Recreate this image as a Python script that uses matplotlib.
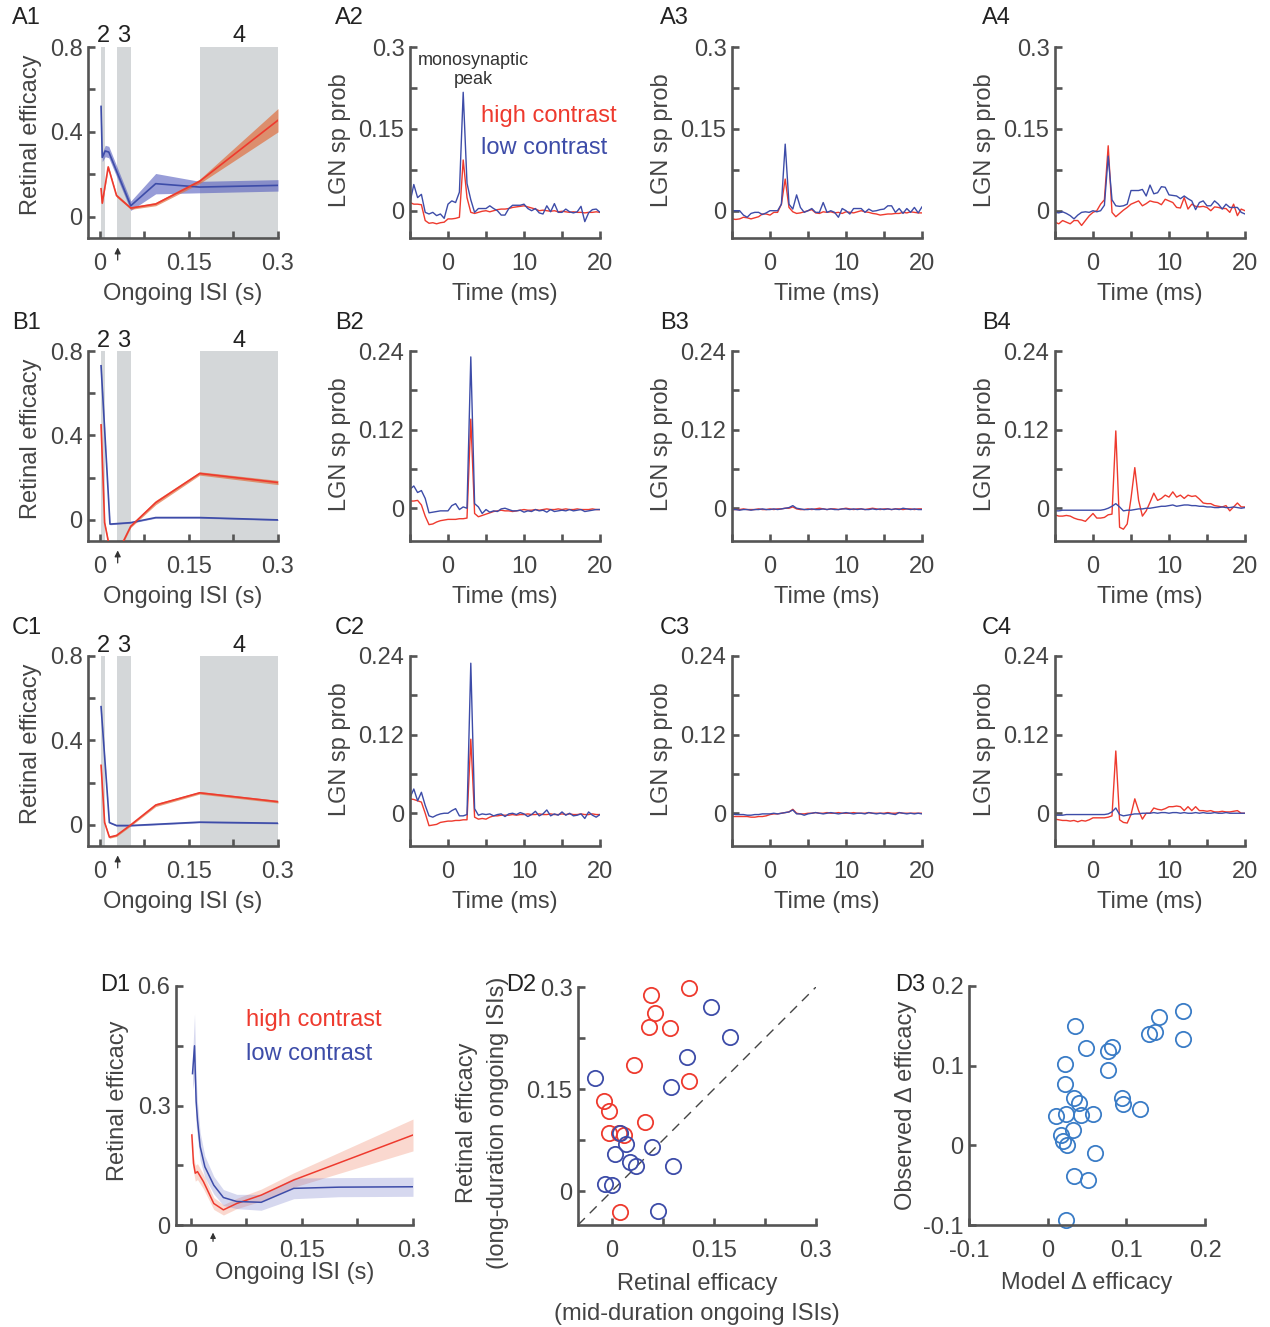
import numpy as np
import matplotlib
matplotlib.use("Agg")
import matplotlib.pyplot as plt

plt.rcParams['font.family'] = ['Liberation Sans', 'DejaVu Sans']
plt.rcParams['font.size'] = 17
plt.rcParams['text.color'] = '#444444'
plt.rcParams['axes.labelcolor'] = '#444444'
plt.rcParams['xtick.color'] = '#555555'
plt.rcParams['ytick.color'] = '#555555'
plt.rcParams['xtick.labelcolor'] = '#444444'
plt.rcParams['ytick.labelcolor'] = '#444444'

RED = '#ee3a2e'
BLUE = '#3d4ca8'
GRAY = '#d4d7d9'
DOT_BLUE = '#3a7cc6'

# ---------------- ISI curves (rows A-C, column 1) ----------------
isi_bands = [(0.002, 0.009), (0.028, 0.052), (0.168, 0.3)]
band_names = ['2', '3', '4']

a1_low_x = [0.002, 0.004, 0.009, 0.015, 0.052, 0.094, 0.168, 0.3]
a1_low = [0.52, 0.28, 0.31, 0.305, 0.052, 0.156, 0.14, 0.148]
a1_low_err = [0.01, 0.02, 0.027, 0.027, 0.022, 0.048, 0.027, 0.027]
a1_high_x = [0.002, 0.004, 0.014, 0.028, 0.052, 0.094, 0.168, 0.3]
a1_high = [0.132, 0.064, 0.235, 0.1, 0.041, 0.06, 0.167, 0.455]
a1_high_err = [0.005, 0.005, 0.008, 0.007, 0.006, 0.008, 0.01, 0.055]

b1_low_x = [0.002, 0.017, 0.052, 0.094, 0.168, 0.3]
b1_low = [0.73, -0.02, -0.013, 0.011, 0.011, 0.0]
b1_low_err = [0.004, 0.003, 0.003, 0.003, 0.003, 0.003]
b1_high_x = [0.002, 0.008, 0.028, 0.038, 0.052, 0.094, 0.168, 0.3]
b1_high = [0.45, -0.013, -0.3, -0.11, -0.03, 0.082, 0.22, 0.177]
b1_high_err = [0.006, 0.006, 0.006, 0.006, 0.006, 0.01, 0.008, 0.01]

c1_low_x = [0.002, 0.016, 0.028, 0.052, 0.168, 0.3]
c1_low = [0.56, 0.011, -0.003, -0.003, 0.013, 0.008]
c1_low_err = [0.004, 0.003, 0.003, 0.003, 0.003, 0.003]
c1_high_x = [0.002, 0.008, 0.016, 0.028, 0.052, 0.094, 0.168, 0.3]
c1_high = [0.282, 0.011, -0.058, -0.05, 0.0, 0.094, 0.152, 0.11]
c1_high_err = [0.005, 0.005, 0.005, 0.005, 0.005, 0.007, 0.006, 0.006]

# ---------------- LGN spike probability traces (0.5 ms bins) ----------------
t_ms = np.arange(-5, 20.01, 0.5)

a2_high = [0.015, 0.012, 0.012, 0.011, -0.018, -0.023, -0.022, -0.024, -0.022, -0.021,
           -0.015, -0.015, -0.014, -0.012, 0.093, 0.024, -0.003, -0.005, -0.003, -0.001,
           0.0, -0.002, 0.0, 0.002, 0.003, 0.003, 0.004, 0.006, 0.007, 0.008,
           0.009, 0.007, 0.005, 0.003, 0.0, 0.001, 0.0, -0.001, 0.0, -0.002,
           -0.001, -0.002, -0.003, -0.002, -0.003, -0.003, -0.004, -0.003, -0.003, -0.002,
           -0.003]
a2_low = [0.015, 0.048, 0.024, 0.030, -0.003, -0.006, -0.003, -0.009, -0.006, -0.014,
          0.012, 0.018, 0.015, 0.034, 0.217, 0.050, 0.020, -0.003, 0.004, 0.004,
          0.004, 0.009, 0.004, 0.0, -0.008, -0.008, 0.004, 0.010, 0.010, 0.010,
          0.012, 0.004, 0.0, 0.004, -0.004, -0.006, 0.009, -0.002, 0.013, -0.003,
          -0.003, 0.003, -0.002, -0.004, -0.002, 0.008, -0.020, -0.004, 0.002, 0.003,
          -0.003]
a3_high = [-0.015, -0.016, -0.015, -0.012, -0.013, -0.015, -0.013, -0.011, -0.006, -0.006,
           -0.008, -0.003, -0.003, 0.012, 0.058, 0.006, -0.002, -0.005, -0.004, -0.002,
           0.0, 0.002, -0.004, -0.005, -0.002, -0.003, -0.002, -0.004, -0.003, -0.005,
           -0.002, -0.003, -0.004, -0.002, 0.0, -0.002, -0.003, -0.005, -0.006, -0.008,
           -0.007, -0.006, -0.006, -0.005, -0.005, -0.003, -0.004, -0.002, -0.003, -0.004,
           -0.004]
a3_low = [0.0, 0.0, 0.0, -0.008, -0.012, -0.005, -0.003, -0.003, -0.007, -0.004,
          0.0, 0.0, 0.0, 0.012, 0.122, 0.012, 0.003, 0.029, 0.006, -0.003,
          0.0, 0.004, -0.003, -0.003, 0.015, -0.003, 0.0, -0.003, -0.012, 0.004,
          0.0, -0.006, 0.004, 0.004, 0.004, -0.003, 0.003, -0.001, 0.0, 0.002,
          0.003, 0.009, 0.009, -0.003, 0.004, -0.005, 0.004, -0.003, 0.006, -0.004,
          0.007]
a4_high = [-0.021, -0.024, -0.018, -0.021, -0.024, -0.018, -0.018, -0.027, -0.018, -0.009,
           -0.003, 0.0, 0.012, 0.020, 0.119, -0.003, -0.011, -0.005, 0.001, 0.006,
           0.012, 0.015, 0.018, 0.009, 0.013, 0.018, 0.016, 0.015, 0.011, 0.021,
           0.018, 0.015, 0.006, 0.005, 0.024, 0.003, 0.012, 0.008, 0.007, 0.008,
           0.006, 0.0, 0.007, 0.006, 0.004, 0.004, -0.003, 0.012, -0.009, 0.003,
           0.0]
a4_low = [-0.003, -0.004, -0.002, -0.005, -0.009, -0.015, -0.008, -0.003, -0.002, -0.003,
          0.0, -0.002, 0.0, 0.010, 0.100, 0.020, 0.009, 0.008, 0.009, 0.012,
          0.037, 0.037, 0.037, 0.039, 0.027, 0.047, 0.031, 0.033, 0.044, 0.043,
          0.029, 0.028, 0.027, 0.022, 0.027, 0.022, 0.018, 0.002, 0.015, 0.018,
          0.009, 0.009, 0.018, 0.012, 0.003, 0.012, 0.006, 0.006, 0.006, -0.003,
          -0.006]

b2_high = [0.011, 0.011, 0.012, 0.005, -0.012, -0.025, -0.024, -0.021, -0.019, -0.018,
           -0.017, -0.017, -0.017, -0.016, -0.016, -0.015, 0.136, -0.008, -0.013, -0.011,
           -0.009, -0.007, -0.005, -0.004, -0.003, -0.004, -0.004, -0.005, -0.004, -0.003,
           -0.002, -0.003, -0.003, -0.002, -0.003, -0.002, -0.001, -0.002, -0.002, -0.001,
           -0.002, -0.001, -0.002, -0.002, -0.001, -0.002, -0.002, -0.002, -0.001, -0.002,
           -0.002]
b2_low = [0.029, 0.034, 0.024, 0.027, 0.015, -0.007, -0.006, -0.005, -0.004, -0.004,
          -0.004, 0.004, 0.007, -0.002, 0.002, 0.000, 0.231, 0.007, 0.002, -0.008,
          -0.002, -0.006, -0.004, -0.005, -0.001, 0.000, -0.002, -0.004, -0.004, -0.003,
          -0.006, -0.004, -0.005, -0.002, -0.004, -0.003, -0.006, -0.002, -0.005, -0.004,
          -0.003, -0.004, -0.002, -0.004, -0.003, -0.002, -0.005, -0.004, -0.003, -0.002,
          -0.002]
b3_high = [-0.002, -0.002, -0.002, -0.001, -0.002, -0.002, -0.002, -0.001, -0.002, -0.002,
           -0.001, -0.002, -0.001, -0.001, 0.000, 0.000, 0.002, -0.001, -0.002, -0.002,
           -0.001, -0.002, -0.001, 0.000, -0.001, -0.002, -0.001, -0.001, -0.002, -0.001,
           0.000, -0.001, -0.002, -0.001, -0.001, -0.002, -0.001, 0.000, -0.001, -0.002,
           -0.001, -0.001, -0.002, -0.001, -0.001, -0.002, -0.001, -0.001, -0.002, -0.001,
           -0.001]
b3_low = [-0.002, -0.002, -0.003, -0.002, -0.002, -0.003, -0.002, -0.002, -0.001, -0.002,
          -0.002, -0.001, -0.002, -0.001, 0.000, 0.001, 0.004, 0.000, -0.001, -0.002,
          -0.002, -0.001, -0.002, -0.002, -0.001, -0.002, -0.001, -0.002, -0.002, -0.001,
          -0.001, -0.002, -0.001, -0.002, -0.001, -0.002, -0.002, -0.001, -0.002, -0.001,
          -0.002, -0.001, -0.002, -0.001, -0.002, 0.000, -0.001, -0.002, -0.001, -0.002,
          -0.002]
b4_high = [-0.010, -0.012, -0.012, -0.011, -0.012, -0.015, -0.017, -0.018, -0.020, -0.014,
           -0.008, -0.015, -0.015, -0.014, -0.010, -0.009, 0.118, -0.029, -0.032, -0.024,
           0.015, 0.062, 0.012, -0.012, -0.004, 0.009, 0.023, 0.012, 0.015, 0.020,
           0.017, 0.025, 0.017, 0.020, 0.015, 0.020, 0.018, 0.019, 0.014, 0.008,
           0.007, 0.007, 0.004, 0.003, 0.002, 0.004, -0.004, 0.002, 0.008, 0.002,
           0.002]
b4_low = [-0.004, -0.004, -0.003, -0.003, -0.003, -0.003, -0.003, -0.003, -0.003, -0.003,
          -0.003, -0.003, -0.003, -0.002, 0.000, 0.003, 0.007, 0.002, -0.004, -0.003,
          -0.003, -0.002, -0.001, -0.001, 0.000, 0.000, 0.001, 0.002, 0.003, 0.003,
          0.004, 0.005, 0.003, 0.004, 0.005, 0.005, 0.004, 0.004, 0.003, 0.003,
          0.002, 0.002, 0.001, 0.001, 0.002, 0.001, 0.001, 0.002, 0.001, 0.000,
          0.001]

c2_high = [0.022, 0.021, 0.019, 0.017, 0.000, -0.019, -0.018, -0.017, -0.014, -0.013,
           -0.012, -0.012, -0.011, -0.011, -0.010, -0.010, 0.113, -0.006, -0.009, -0.008,
           -0.009, -0.006, -0.004, -0.004, -0.003, -0.003, -0.003, -0.002, -0.003, -0.002,
           -0.002, -0.001, -0.002, -0.002, -0.001, -0.002, -0.002, -0.001, -0.002, -0.002,
           -0.001, -0.002, -0.001, -0.002, -0.002, -0.001, -0.002, -0.002, -0.001, -0.002,
           -0.002]
c2_low = [0.024, 0.037, 0.019, 0.032, 0.012, -0.004, -0.006, -0.003, -0.001, 0.000,
          0.000, 0.004, 0.007, -0.004, -0.004, -0.002, 0.229, 0.007, -0.003, -0.001,
          -0.002, -0.001, -0.004, -0.002, -0.001, -0.005, -0.001, 0.000, -0.002, 0.001,
          -0.001, -0.005, -0.002, 0.003, -0.004, -0.001, 0.005, -0.004, -0.001, -0.003,
          0.002, -0.003, 0.000, -0.004, -0.003, -0.001, -0.008, 0.002, -0.003, -0.006,
          -0.002]
c3_high = [-0.005, -0.005, -0.005, -0.005, -0.005, -0.006, -0.006, -0.005, -0.005, -0.004,
           -0.002, -0.001, -0.001, 0.000, 0.001, 0.002, 0.006, 0.000, -0.001, -0.001,
           0.000, 0.000, 0.001, 0.000, 0.000, 0.001, 0.000, 0.000, 0.001, 0.000,
           0.000, 0.000, 0.001, 0.000, 0.000, 0.000, 0.001, 0.000, 0.000, 0.000,
           0.000, 0.001, 0.000, 0.000, 0.001, 0.000, 0.000, 0.000, 0.000, 0.000,
           0.000]
c3_low = [-0.001, -0.002, -0.002, -0.002, -0.003, -0.003, -0.002, -0.002, -0.001, -0.001,
          -0.001, 0.000, -0.001, 0.000, 0.001, 0.002, 0.005, -0.001, -0.001, -0.003,
          -0.001, 0.000, 0.001, 0.000, -0.001, 0.000, 0.001, 0.000, -0.001, 0.000,
          0.001, 0.000, -0.001, 0.000, 0.000, -0.001, 0.001, 0.000, -0.001, 0.000,
          -0.001, 0.000, -0.001, -0.002, 0.001, 0.000, -0.001, 0.000, -0.001, 0.000,
          -0.001]
c4_high = [-0.009, -0.010, -0.011, -0.011, -0.012, -0.011, -0.013, -0.011, -0.012, -0.010,
           -0.007, -0.007, -0.007, -0.007, -0.006, -0.004, 0.095, -0.010, -0.014, -0.015,
           -0.002, 0.022, 0.004, -0.009, 0.000, 0.000, 0.008, 0.006, 0.005, 0.007,
           0.010, 0.010, 0.011, 0.010, 0.004, 0.010, 0.004, 0.010, 0.004, 0.004,
           0.003, 0.004, 0.002, 0.002, 0.003, 0.002, 0.002, 0.003, 0.004, 0.000,
           0.000]
c4_low = [-0.003, -0.003, -0.003, -0.002, -0.002, -0.002, -0.002, -0.002, -0.002, -0.002,
          -0.002, -0.002, -0.002, -0.002, -0.001, 0.002, 0.008, -0.002, -0.004, -0.003,
          -0.002, -0.001, -0.001, 0.000, 0.000, 0.000, 0.001, 0.000, 0.001, 0.001,
          0.000, 0.001, 0.001, 0.000, 0.001, 0.000, 0.000, 0.001, 0.000, 0.001,
          0.000, 0.000, 0.001, 0.000, 0.000, 0.001, 0.000, 0.000, 0.000, 0.000,
          0.000]

# ---------------- D1: population efficacy vs ISI ----------------
d1_low_x = [0.0023, 0.005, 0.0072, 0.009, 0.0126, 0.019, 0.031, 0.044, 0.062, 0.095, 0.139, 0.2, 0.3]
d1_low = [0.38, 0.45, 0.31, 0.264, 0.197, 0.146, 0.1, 0.069, 0.059, 0.057, 0.092, 0.095, 0.096]
d1_low_err = [0.04, 0.08, 0.06, 0.045, 0.035, 0.027, 0.022, 0.02, 0.018, 0.02, 0.026, 0.024, 0.024]
d1_high_x = [0.0014, 0.0036, 0.006, 0.009, 0.017, 0.031, 0.044, 0.062, 0.095, 0.139, 0.3]
d1_high = [0.226, 0.155, 0.13, 0.134, 0.109, 0.054, 0.038, 0.054, 0.075, 0.113, 0.226]
d1_high_err = [0.02, 0.02, 0.02, 0.02, 0.018, 0.015, 0.013, 0.013, 0.015, 0.018, 0.04]

# ---------------- D2: mid vs long ISI efficacy ----------------
d2_high_mid = [0.057, 0.113, 0.063, 0.055, 0.086, 0.032, 0.113, -0.012, -0.005, 0.048, -0.004, 0.011, 0.018, 0.012]
d2_high_long = [0.288, 0.298, 0.262, 0.241, 0.240, 0.185, 0.162, 0.133, 0.118, 0.101, 0.086, 0.085, 0.083, -0.031]
d2_low_mid = [0.145, 0.174, 0.110, -0.025, 0.087, 0.012, 0.021, 0.059, 0.005, 0.026, 0.035, 0.089, -0.010, 0.0, 0.067]
d2_low_long = [0.271, 0.226, 0.197, 0.166, 0.153, 0.086, 0.069, 0.064, 0.055, 0.042, 0.037, 0.037, 0.010, 0.009, -0.030]

# ---------------- D3: model vs observed change ----------------
d3_model = [0.035, 0.049, 0.022, 0.022, 0.034, 0.040, 0.011, 0.023, 0.042, 0.057, 0.032, 0.017, 0.019,
            0.025, 0.060, 0.034, 0.051, 0.023, 0.077, 0.077, 0.082, 0.094, 0.096, 0.117, 0.129, 0.136,
            0.141, 0.172, 0.172]
d3_observed = [0.150, 0.122, 0.102, 0.077, 0.060, 0.053, 0.037, 0.039, 0.038, 0.039, 0.019, 0.013, 0.006,
               0.0, -0.009, -0.038, -0.044, -0.094, 0.094, 0.119, 0.123, 0.059, 0.052, 0.046, 0.140, 0.142,
               0.161, 0.168, 0.133]

W, H = 1270, 1327
fig = plt.figure(figsize=(W / 100, H / 100), dpi=100)


def add_ax(l, t, r, b):
    return fig.add_axes([l / W, 1 - b / H, (r - l) / W, (b - t) / H])


def style(ax):
    for s in ['top', 'right']:
        ax.spines[s].set_visible(False)
    for s in ['left', 'bottom']:
        ax.spines[s].set_linewidth(1.9)
        ax.spines[s].set_color('#555555')
    ax.tick_params(direction='in', length=5, width=1.9, labelsize=17)
    ax.tick_params(axis='x', pad=10.5)
    ax.tick_params(axis='y', pad=4)


def isi_panel(ax, lx, ly, le, hx, hy, he):
    for (a, b), name in zip(isi_bands, band_names):
        ax.axvspan(a, b, color=GRAY, lw=0, zorder=0)
        ax.text((a + b) / 2, 1.055, name, transform=ax.get_xaxis_transform(),
                ha='center', va='center', fontsize=17, color='#222222')
    lx, ly, le = np.array(lx), np.array(ly), np.array(le)
    hx, hy, he = np.array(hx), np.array(hy), np.array(he)
    ax.fill_between(lx, ly - le, ly + le, color='#545cbe', alpha=0.6, lw=0, zorder=1)
    ax.fill_between(hx, hy - he, hy + he, color='#e0703f', alpha=0.7, lw=0, zorder=1)
    ax.plot(lx, ly, color=BLUE, lw=1.2, zorder=3)
    ax.plot(hx, hy, color=RED, lw=1.2, zorder=3)
    ax.set_xlim(-0.02, 0.3)
    ax.set_ylim(-0.1, 0.8)
    ax.set_xticks([0, 0.075, 0.15, 0.225, 0.3])
    ax.set_xticklabels(['0', '', '0.15', '', '0.3'])
    ax.set_yticks([0, 0.2, 0.4, 0.6, 0.8])
    ax.set_yticklabels(['0', '', '0.4', '', '0.8'])
    style(ax)
    ax.annotate('', xy=(0.03, -0.035), xytext=(0.03, -0.13),
                xycoords=('data', 'axes fraction'), annotation_clip=False,
                arrowprops=dict(arrowstyle='-|>', color='#333333', lw=0.9, mutation_scale=9))
    ax.set_xlabel('Ongoing ISI (s)')
    ax.set_ylabel('Retinal efficacy')
    ax.xaxis.set_label_coords(0.5, -0.235)
    ax.yaxis.set_label_coords(-0.24, 0.54)


def lgn_panel(ax, high, low, ymax):
    ax.plot(t_ms, high, color=RED, lw=1.0)
    ax.plot(t_ms, low, color=BLUE, lw=1.0)
    ax.set_xlim(-5, 20)
    ax.set_ylim(-0.05, ymax)
    ax.set_xticks([-5, 0, 5, 10, 15, 20])
    ax.set_xticklabels(['', '0', '', '10', '', '20'])
    ticks = [0, ymax / 4, ymax / 2, 3 * ymax / 4, ymax]
    ax.set_yticks(ticks)
    half = '0.15' if ymax == 0.3 else '0.12'
    top = '0.3' if ymax == 0.3 else '0.24'
    ax.set_yticklabels(['0', '', half, '', top])
    style(ax)
    ax.set_xlabel('Time (ms)')
    ax.set_ylabel('LGN sp prob')
    ax.xaxis.set_label_coords(0.5, -0.235)
    ax.yaxis.set_label_coords(-0.31, 0.51)


cols = [(88, 278), (410, 600), (732, 922), (1055, 1245)]
rows = [(47, 238), (351, 541), (656, 846)]
isi_data = [
    (a1_low_x, a1_low, a1_low_err, a1_high_x, a1_high, a1_high_err),
    (b1_low_x, b1_low, b1_low_err, b1_high_x, b1_high, b1_high_err),
    (c1_low_x, c1_low, c1_low_err, c1_high_x, c1_high, c1_high_err),
]
lgn_data = [
    [(a2_high, a2_low), (a3_high, a3_low), (a4_high, a4_low)],
    [(b2_high, b2_low), (b3_high, b3_low), (b4_high, b4_low)],
    [(c2_high, c2_low), (c3_high, c3_low), (c4_high, c4_low)],
]
row_names = ['A', 'B', 'C']
label_x = [12, 335, 660, 982]
label_y = [18, 323, 628]

for r, (top, bot) in enumerate(rows):
    ax = add_ax(cols[0][0], top, cols[0][1], bot)
    isi_panel(ax, *isi_data[r])
    ymax = 0.3 if r == 0 else 0.24
    for c in range(3):
        ax = add_ax(cols[c + 1][0], top, cols[c + 1][1], bot)
        lgn_panel(ax, lgn_data[r][c][0], lgn_data[r][c][1], ymax)
        if r == 0 and c == 0:
            ax.text(3.4, 0.258, 'monosynaptic\npeak', ha='center', va='center',
                    fontsize=13, color='#333333', linespacing=1.15)
            ax.text(4.3, 0.174, 'high contrast', color=RED, ha='left', va='center', fontsize=17)
            ax.text(4.3, 0.115, 'low contrast', color=BLUE, ha='left', va='center', fontsize=17)
    for c in range(4):
        fig.text(label_x[c] / W, 1 - label_y[r] / H, '%s%d' % (row_names[r], c + 1),
                 ha='left', va='center', fontsize=17, color='#222222')

# ---- D1 ----
ax = add_ax(176, 986, 413, 1225)
lx, ly, le = np.array(d1_low_x), np.array(d1_low), np.array(d1_low_err)
hx, hy, he = np.array(d1_high_x), np.array(d1_high), np.array(d1_high_err)
ax.fill_between(hx, hy - he, hy + he, color='#f08060', alpha=0.3, lw=0)
ax.fill_between(lx, ly - le, ly + le, color='#6e74c8', alpha=0.28, lw=0)
ax.plot(hx, hy, color=RED, lw=1.1)
ax.plot(lx, ly, color=BLUE, lw=1.1)
ax.set_xlim(-0.02, 0.3)
ax.set_ylim(0, 0.6)
ax.set_xticks([0, 0.075, 0.15, 0.225, 0.3])
ax.set_xticklabels(['0', '', '0.15', '', '0.3'])
ax.set_yticks([0, 0.15, 0.3, 0.45, 0.6])
ax.set_yticklabels(['0', '', '0.3', '', '0.6'])
style(ax)
ax.annotate('', xy=(0.03, -0.02), xytext=(0.03, -0.08),
            xycoords=('data', 'axes fraction'), annotation_clip=False,
            arrowprops=dict(arrowstyle='-|>', color='#333333', lw=0.9, mutation_scale=8))
ax.text(0.074, 0.515, 'high contrast', color=RED, ha='left', va='center', fontsize=17)
ax.text(0.074, 0.429, 'low contrast', color=BLUE, ha='left', va='center', fontsize=17)
ax.set_xlabel('Ongoing ISI (s)')
ax.set_ylabel('Retinal efficacy')
ax.xaxis.set_label_coords(0.5, -0.155)
ax.yaxis.set_label_coords(-0.2, 0.52)

# ---- D2 ----
ax = add_ax(578, 987, 816, 1225)
ax.plot([-0.05, 0.3], [-0.05, 0.3], color='#444444', lw=1.0, dashes=(7, 5))
ax.plot(d2_high_mid, d2_high_long, 'o', mfc='none', mec=RED, ms=11, mew=1.3, clip_on=False)
ax.plot(d2_low_mid, d2_low_long, 'o', mfc='none', mec=BLUE, ms=11, mew=1.3, clip_on=False)
ax.set_xlim(-0.05, 0.3)
ax.set_ylim(-0.05, 0.3)
ax.set_xticks([0, 0.075, 0.15, 0.225, 0.3])
ax.set_xticklabels(['0', '', '0.15', '', '0.3'])
ax.set_yticks([0, 0.075, 0.15, 0.225, 0.3])
ax.set_yticklabels(['0', '', '0.15', '', '0.3'])
style(ax)
ax.set_xlabel('Retinal efficacy\n(mid-duration ongoing ISIs)', linespacing=1.5)
ax.set_ylabel('Retinal efficacy\n(long-duration ongoing ISIs)', linespacing=1.5)
ax.xaxis.set_label_coords(0.5, -0.2)
ax.yaxis.set_label_coords(-0.29, 0.43)

# ---- D3 ----
ax = add_ax(969, 986, 1205, 1225)
ax.plot(d3_model, d3_observed, 'o', mfc='none', mec=DOT_BLUE, ms=11, mew=1.3, clip_on=False)
ax.set_xlim(-0.1, 0.2)
ax.set_ylim(-0.1, 0.2)
ax.set_xticks([-0.1, 0, 0.1, 0.2])
ax.set_xticklabels(['-0.1', '0', '0.1', '0.2'])
ax.set_yticks([-0.1, 0, 0.1, 0.2])
ax.set_yticklabels(['-0.1', '0', '0.1', '0.2'])
style(ax)
ax.set_xlabel('Model \u0394 efficacy')
ax.set_ylabel('Observed \u0394 efficacy')
ax.xaxis.set_label_coords(0.5, -0.195)
ax.yaxis.set_label_coords(-0.22, 0.5)

for x, name in zip([100, 506, 895], ['D1', 'D2', 'D3']):
    fig.text(x / W, 1 - 985 / H, name, ha='left', va='center', fontsize=17, color='#222222')

fig.savefig('out.png', dpi=100)
